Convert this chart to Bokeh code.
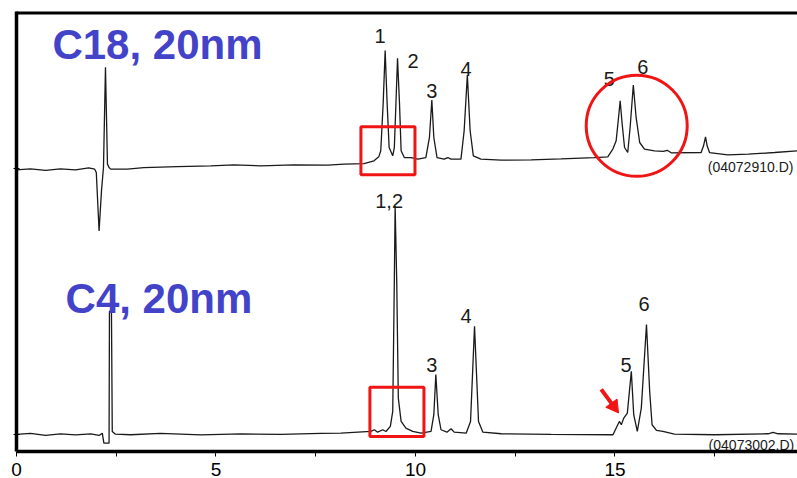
from bokeh.plotting import figure
from bokeh.models import Range1d, FixedTicker
from bokeh.embed import file_html
from bokeh.resources import INLINE
from bokeh.core.properties import value

# ---------------- data (retention time in min, detector signal in arbitrary units) ----------------
top_t = [0.00, 0.35, 0.73, 1.10, 1.48, 1.81, 1.96, 2.00, 2.07, 2.13, 2.18, 2.23, 2.28, 2.32, 2.36,
         2.78, 3.19, 4.03, 4.87, 5.45, 6.12, 6.95, 7.80, 8.21, 8.71, 8.96, 9.08, 9.13, 9.19, 9.24,
         9.29, 9.34, 9.43, 9.47, 9.51, 9.55, 9.60, 9.64, 9.72, 9.89, 10.06, 10.26, 10.35, 10.41,
         10.46, 10.54, 10.72, 10.81, 10.89, 11.14, 11.22, 11.30, 11.37, 11.45, 11.64, 12.15, 12.90,
         13.65, 14.48, 14.82, 14.95, 15.03, 15.09, 15.13, 15.18, 15.24, 15.32, 15.38, 15.46, 15.53,
         15.62, 15.74, 15.99, 16.21, 16.31, 16.41, 17.16, 17.22, 17.27, 17.31, 17.37, 17.83, 18.34,
         19.00, 19.60]
top_sig = [-1, 0, -1.5, 0, -1, 1, -0.3, -3.7, -62, -22, 1.3, 101.3, 4.7, 1.3, -0.3,
           -0.3, 1.3, 2.3, 3, 4, 3, 4, 3.7, 4.7, 5.3, 8, 12, 18, 65, 118,
           65, 21.3, 13, 21.3, 65, 110.3, 65, 18, 11.3, 11.3, 9.7, 11.3, 31.3, 68.7,
           31.3, 11.3, 9.7, 11.3, 9.7, 9.7, 38, 93.7, 38, 13, 9.7, 8.7, 9,
           10, 11.3, 12, 20, 28, 51.3, 68, 45, 21.3, 16.3, 41.3, 83.7, 51.3,
           26.3, 19.7, 18, 17.5, 18.5, 16, 16.3, 23, 32, 23, 16.3, 14, 14.7,
           16.3, 18]

bot_t = [0.00, 0.35, 0.73, 1.10, 1.48, 1.86, 2.07, 2.15, 2.19, 2.32, 2.33, 2.38, 2.40, 2.48,
         2.86, 3.61, 4.62, 5.62, 6.62, 7.63, 8.13, 8.88, 8.97, 9.05, 9.18, 9.26, 9.37, 9.43,
         9.47, 9.49, 9.53, 9.57, 9.64, 9.76, 9.93, 10.14, 10.39, 10.46, 10.51, 10.57, 10.64,
         10.79, 10.89, 10.97, 11.27, 11.38, 11.44, 11.48, 11.52, 11.58, 11.69, 12.15, 13.40,
         14.95, 15.07, 15.11, 15.16, 15.22, 15.31, 15.41, 15.47, 15.56, 15.66, 15.79, 15.87,
         15.93, 16.04, 16.20, 16.49, 17.50, 18.84, 18.96, 19.09, 19.60]
bot_sig = [0, 1, -1, 0.5, -0.5, 0.5, -1, 1.3, -8.7, -8.7, 123, 123, 3, 0.3,
           -0.3, 1, -0.5, 0.5, 0, 1, 1.3, 3, 4.7, 2.3, 4.7, 3, 8, 23,
           153, 228, 153, 36.3, 13, 6.3, 3, 1.3, 3, 19.7, 59.7, 19.7, 4.7,
           2.3, 5.7, 2.3, 1.3, 13, 69.7, 108, 69.7, 13, 2.3, 0.7, 0,
           -0.3, 9.7, 13, 9.7, 16.3, 21.3, 63, 19.7, 3, 26.3, 109.7, 43,
           9.7, 4, 3, 0.3, -0.3, 0.7, 2, 0.7, 0.3]

top_peak_names = ["1", "2", "3", "4", "5", "6"]
top_peak_t = [9.11, 9.94, 10.41, 11.27, 14.86, 15.70]
top_peak_lab = [133, 108, 78, 99.7, 89.7, 101.3]

bot_peak_names = ["1,2", "3", "4", "5", "6"]
bot_peak_t = [9.34, 10.41, 11.27, 15.28, 15.73]
bot_peak_lab = [233, 69.7, 118, 69.7, 129.7]

traces = ["C18, 20nm", "C4, 20nm"]
files = ["(04072910.D)", "(04073002.D)"]
x_ticks = [0, 5, 10, 15]
x_minor = [2.5, 7.5, 12.5, 17.5]

# highlight boxes / circle / arrow (time, signal)
box_t = [9.31, 9.535]
box_y = [283, 22.5]
box_w = [1.355, 1.355]
box_h = [48, 49]
circ_t, circ_y = 15.545, 308
arrow_x0, arrow_y0, arrow_x1, arrow_y1 = 14.655, 45, 14.97, 28

TOP_OFFSET = 265
Y_TOP = 422
RED = "#f01414"
BLUE = "#4343c9"
FONT = "Liberation Sans"

top_y = [v + TOP_OFFSET for v in top_sig]
top_lab_y = [v + TOP_OFFSET for v in top_peak_lab]

p = figure(width=797, height=478, output_backend="svg", toolbar_location=None,
           x_range=Range1d(0, 19.575), y_range=Range1d(-17, Y_TOP),
           min_border_left=16, min_border_right=0, min_border_top=11, min_border_bottom=0)
p.outline_line_color = None
p.xgrid.visible = False
p.ygrid.visible = False

# traces
p.line(top_t, top_y, line_color="#1a1a1a", line_width=1.3)
p.line(bot_t, bot_sig, line_color="#1a1a1a", line_width=1.3)

# peak labels
p.text(x=top_peak_t, y=top_lab_y, text=top_peak_names,
       text_font=value(FONT), text_font_size="20px", text_color="#1a1a1a",
       text_align="center", text_baseline="middle")
p.text(x=bot_peak_t, y=bot_peak_lab, text=bot_peak_names,
       text_font=value(FONT), text_font_size="20px", text_color="#1a1a1a",
       text_align="center", text_baseline="middle")

# file names
p.text(x=[18.40, 18.42], y=[267.3, -11], text=files, text_font=value(FONT),
       text_font_size="14px", text_color="#1a1a1a", text_align="center", text_baseline="middle")

# titles
p.text(x=[0.90, 1.23], y=[389, 135.5], text=traces, text_font=value(FONT), text_font_size="42px",
       text_font_style="bold", text_color=BLUE, text_align="left", text_baseline="middle")

# red highlights
p.rect(x=box_t, y=box_y, width=box_w, height=box_h, fill_alpha=0, line_color=RED, line_width=3)
p.scatter(x=[circ_t], y=[circ_y], marker="circle", size=101, fill_alpha=0,
          line_color=RED, line_width=3)
p.segment(x0=[arrow_x0], y0=[arrow_y0], x1=[arrow_x1], y1=[arrow_y1], line_color=RED, line_width=4)
p.scatter(x=[arrow_x1], y=[arrow_y1], marker="triangle", size=14, angle=-2.51,
          fill_color=RED, line_color=RED)

# frame top border (half clipped by frame)
p.line(x=[-1, 25], y=[Y_TOP, Y_TOP], line_color="black", line_width=6)

# axes
xa = p.xaxis[0]
xa.ticker = FixedTicker(ticks=x_ticks, minor_ticks=x_minor)
xa.axis_line_width = 3.5
xa.major_tick_in = 0
xa.major_tick_out = 5
xa.minor_tick_in = 0
xa.minor_tick_out = 5
xa.major_label_text_font = FONT
xa.major_label_text_font_size = "19px"
xa.major_label_text_color = "black"
xa.major_label_standoff = 6

ya = p.yaxis[0]
ya.ticker = FixedTicker(ticks=[0, TOP_OFFSET], minor_ticks=[])
ya.axis_line_width = 3.5
ya.major_tick_in = 3
ya.major_tick_out = 3
ya.major_label_text_alpha = 0
ya.major_label_standoff = 0

open("out.html", "w").write(file_html(p, INLINE))
